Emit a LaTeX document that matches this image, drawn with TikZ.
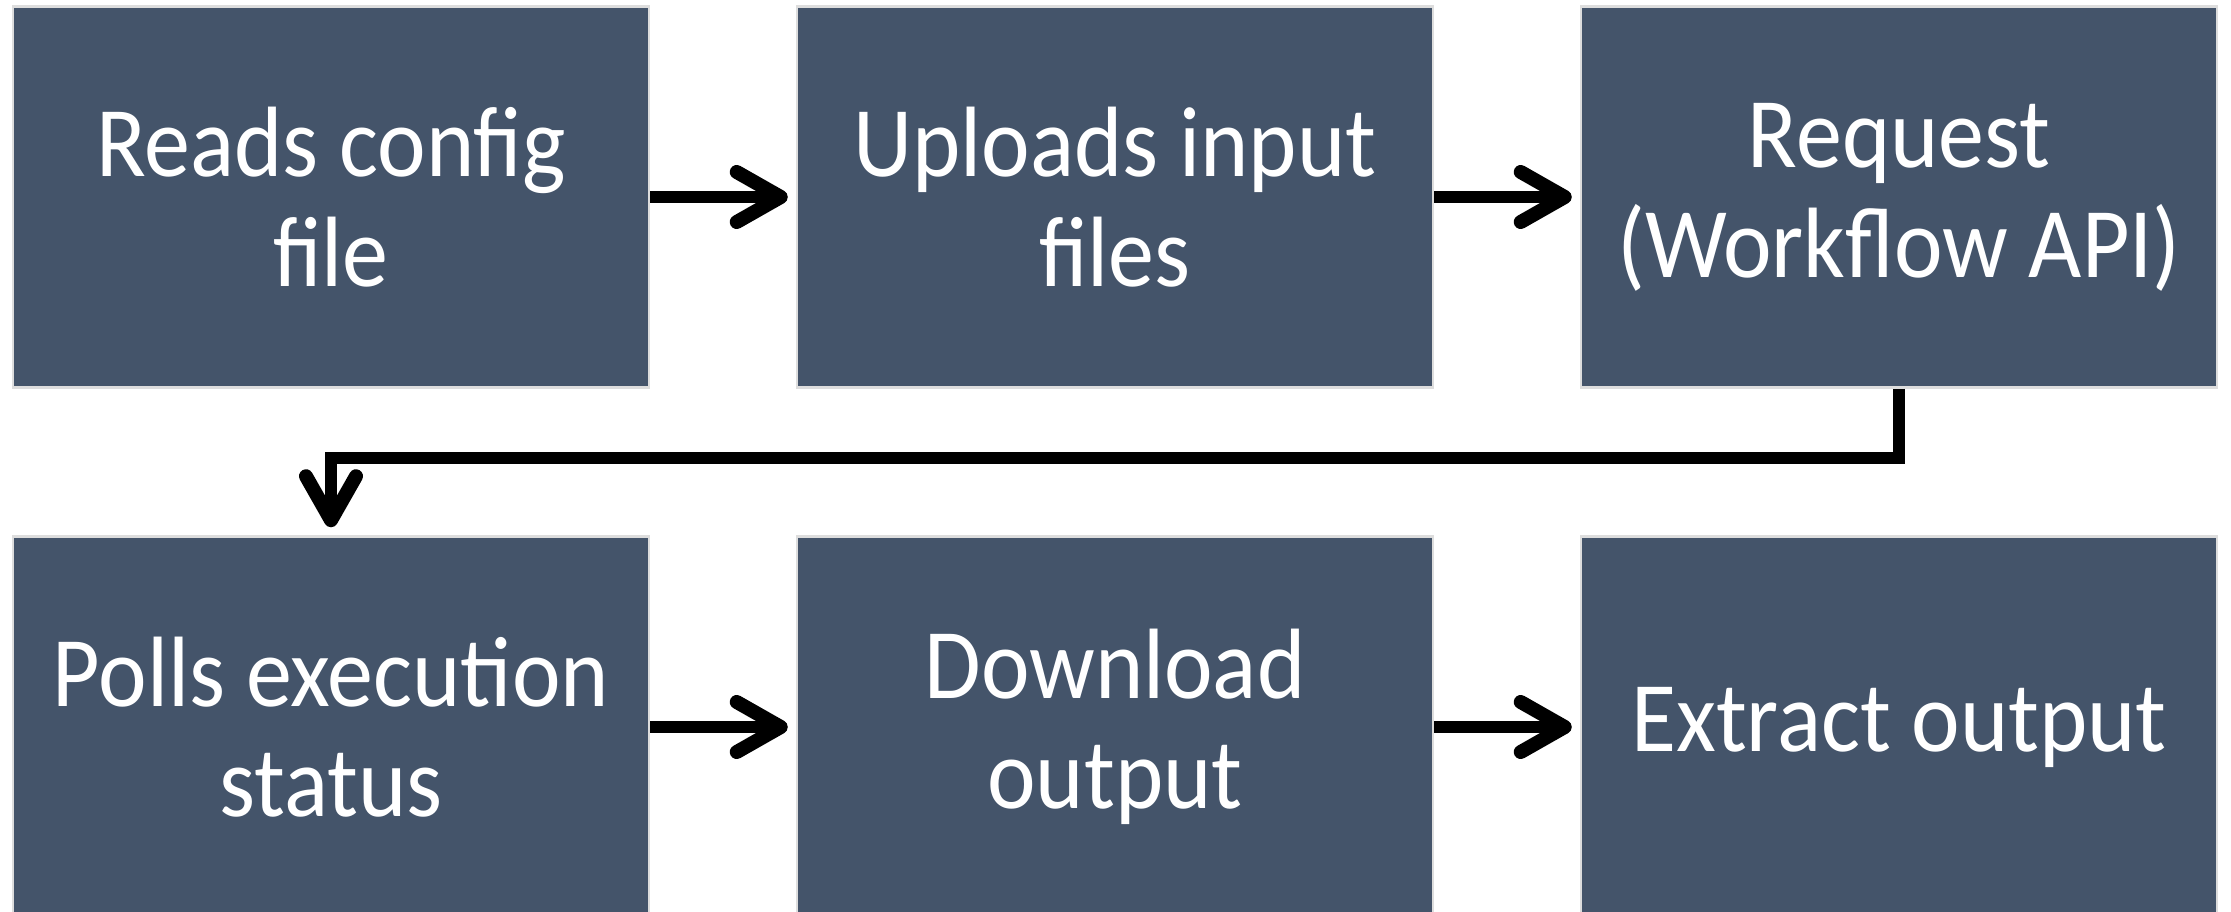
\documentclass[tikz,border=0pt]{standalone}
\usepackage{fontspec}
\usetikzlibrary{arrows.meta}
\newfontfamily\boxfont[FakeStretch=0.92]{Carlito}
\definecolor{boxfill}{HTML}{44546A}
\definecolor{boxedge}{HTML}{DDDDDD}
\tikzset{
  stepbox/.style={rectangle, fill=boxfill, draw=boxedge, line width=2.5pt,
    minimum width=636pt, minimum height=381pt, inner sep=0pt,
    text=white, align=center,
    font=\boxfont\fontsize{100}{110}\selectfont},
  flow/.style={line width=12pt, line join=miter,
    -{Straight Barb[round, length=44pt, width=50pt, line width=14pt]}, shorten >=8pt}
}
\begin{document}
\begin{tikzpicture}[x=1pt,y=-1pt]
  \useasboundingbox (0,0) rectangle (2231,912);
  \clip (0,0) rectangle (2231,912);
  \fill[white] (0,0) rectangle (2231,912);
  % first row
  \node[stepbox] (read) at (331,197) {Reads config\\file};
  \node[stepbox] (upload) at (1115,197) {Uploads input\\files};
  \node[stepbox] (request) at (1899,197) {Request\\(Workflow API)};
  % second row
  \node[stepbox] (poll) at (331,727) {Polls execution\\status};
  \node[stepbox] (download) at (1115,727) {Download\\output};
  \node[stepbox] (extract) at (1899,727) {Extract output};
  % connectors
  \draw[flow] (read) -- (upload);
  \draw[flow] (upload) -- (request);
  \coordinate (turn) at (0,458);
  \draw[flow] (request.south) |- (turn -| poll.north) -- (poll.north);
  \draw[flow] (poll) -- (download);
  \draw[flow] (download) -- (extract);
\end{tikzpicture}
\end{document}
